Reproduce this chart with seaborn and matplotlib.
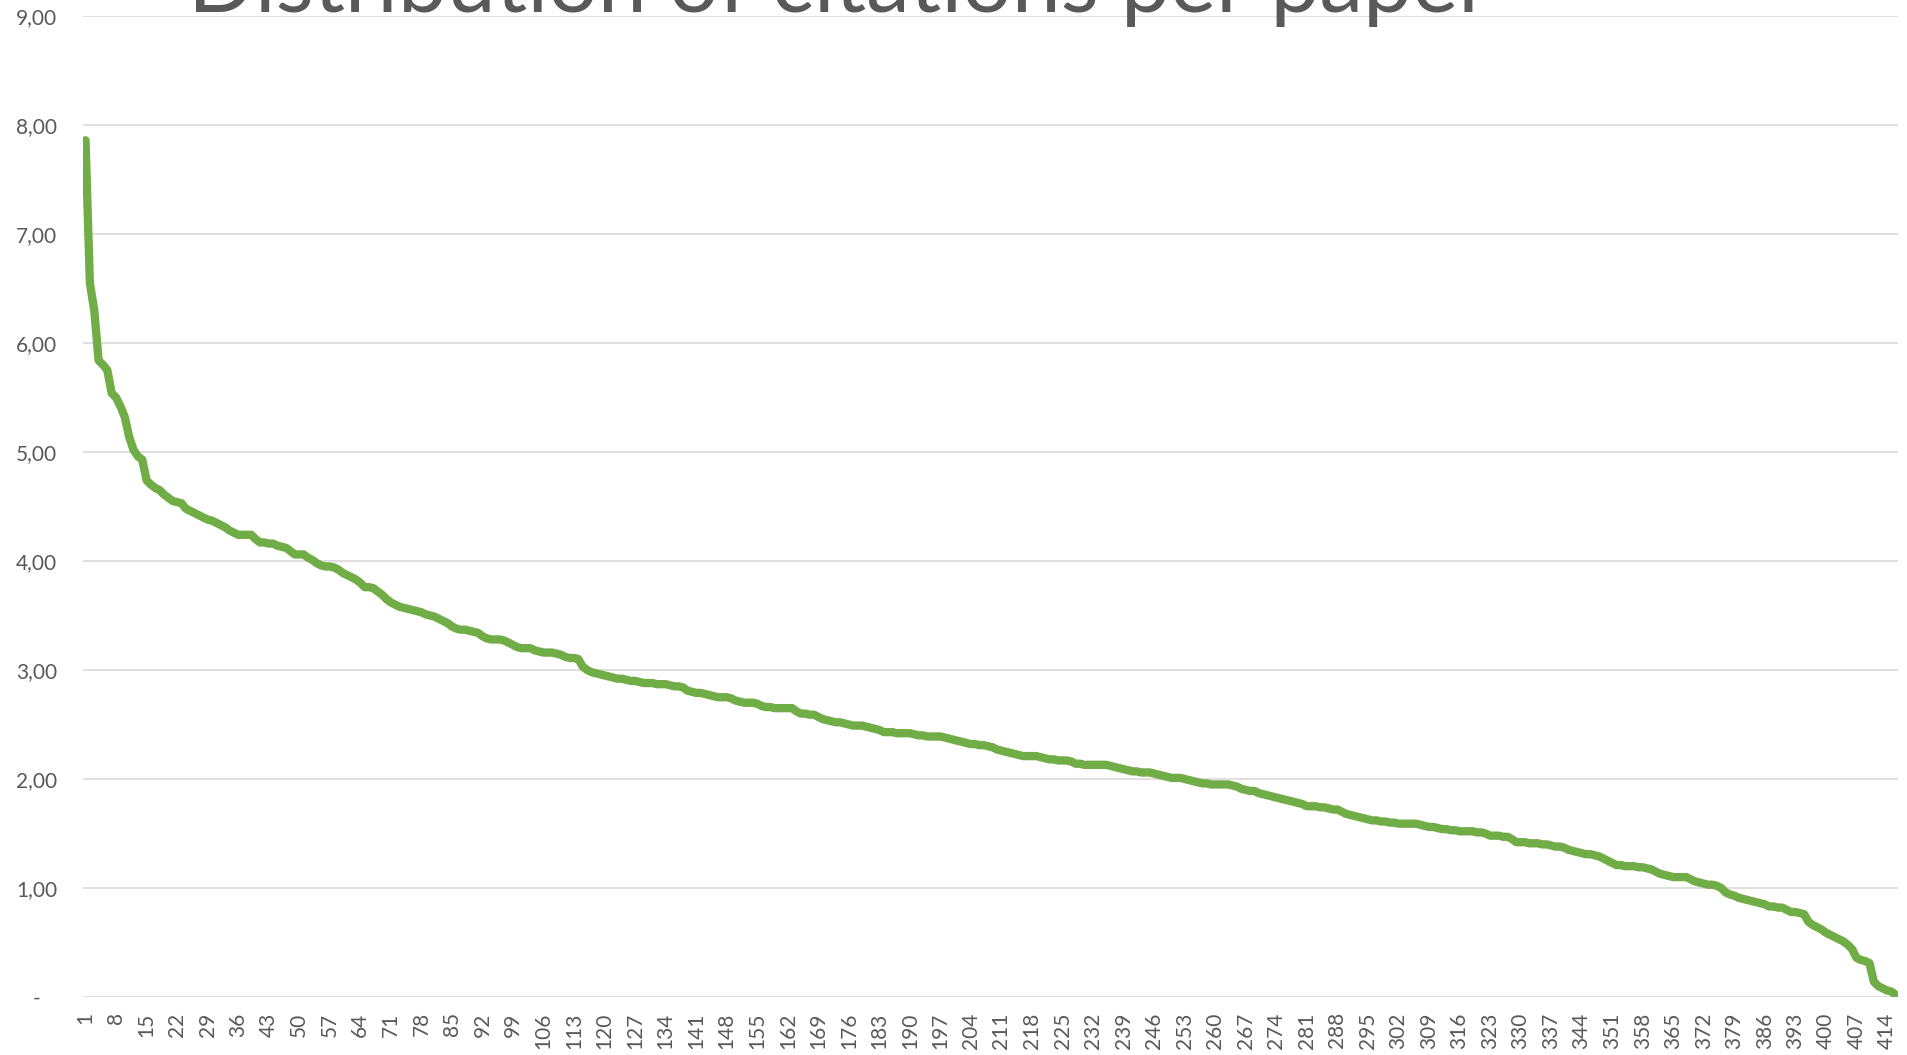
import numpy as np
import pandas as pd
import matplotlib
matplotlib.use("Agg")
import matplotlib.pyplot as plt
import seaborn as sns

# citations per paper, sorted descending
citations = [
    7.86, 6.55, 6.30, 5.84, 5.80, 5.75, 5.54, 5.50, 5.42, 5.32,
    5.14, 5.02, 4.96, 4.93, 4.74, 4.70, 4.67, 4.65, 4.61, 4.58,
    4.55, 4.54, 4.53, 4.48, 4.46, 4.44, 4.42, 4.40, 4.38, 4.37,
    4.35, 4.33, 4.31, 4.28, 4.26, 4.24, 4.24, 4.24, 4.24, 4.20,
    4.17, 4.17, 4.16, 4.16, 4.14, 4.13, 4.12, 4.09, 4.06, 4.06,
    4.06, 4.03, 4.01, 3.98, 3.96, 3.95, 3.95, 3.94, 3.92, 3.89,
    3.87, 3.85, 3.83, 3.80, 3.76, 3.76, 3.75, 3.72, 3.69, 3.65,
    3.62, 3.60, 3.58, 3.57, 3.56, 3.55, 3.54, 3.53, 3.51, 3.50,
    3.49, 3.47, 3.45, 3.43, 3.40, 3.38, 3.37, 3.37, 3.36, 3.35,
    3.34, 3.31, 3.29, 3.28, 3.28, 3.28, 3.27, 3.25, 3.23, 3.21,
    3.20, 3.20, 3.20, 3.18, 3.17, 3.16, 3.16, 3.16, 3.15, 3.14,
    3.12, 3.11, 3.11, 3.10, 3.03, 3.00, 2.98, 2.97, 2.96, 2.95,
    2.94, 2.93, 2.92, 2.92, 2.91, 2.90, 2.90, 2.89, 2.88, 2.88,
    2.88, 2.87, 2.87, 2.87, 2.86, 2.85, 2.85, 2.84, 2.81, 2.80,
    2.79, 2.79, 2.78, 2.77, 2.76, 2.75, 2.75, 2.75, 2.74, 2.72,
    2.71, 2.70, 2.70, 2.70, 2.69, 2.67, 2.66, 2.66, 2.65, 2.65,
    2.65, 2.65, 2.65, 2.62, 2.60, 2.60, 2.59, 2.59, 2.57, 2.55,
    2.54, 2.53, 2.52, 2.52, 2.51, 2.50, 2.49, 2.49, 2.49, 2.48,
    2.47, 2.46, 2.45, 2.43, 2.43, 2.43, 2.42, 2.42, 2.42, 2.42,
    2.41, 2.40, 2.40, 2.39, 2.39, 2.39, 2.39, 2.38, 2.37, 2.36,
    2.35, 2.34, 2.33, 2.32, 2.32, 2.31, 2.31, 2.30, 2.29, 2.27,
    2.26, 2.25, 2.24, 2.23, 2.22, 2.21, 2.21, 2.21, 2.21, 2.20,
    2.19, 2.18, 2.18, 2.17, 2.17, 2.17, 2.16, 2.14, 2.14, 2.13,
    2.13, 2.13, 2.13, 2.13, 2.13, 2.12, 2.11, 2.10, 2.09, 2.08,
    2.07, 2.07, 2.06, 2.06, 2.06, 2.05, 2.04, 2.03, 2.02, 2.01,
    2.01, 2.01, 2.00, 1.99, 1.98, 1.97, 1.96, 1.96, 1.95, 1.95,
    1.95, 1.95, 1.95, 1.94, 1.93, 1.91, 1.90, 1.89, 1.89, 1.87,
    1.86, 1.85, 1.84, 1.83, 1.82, 1.81, 1.80, 1.79, 1.78, 1.77,
    1.75, 1.75, 1.75, 1.74, 1.74, 1.73, 1.72, 1.72, 1.70, 1.68,
    1.67, 1.66, 1.65, 1.64, 1.63, 1.62, 1.62, 1.61, 1.61, 1.60,
    1.60, 1.59, 1.59, 1.59, 1.59, 1.59, 1.58, 1.57, 1.56, 1.56,
    1.55, 1.54, 1.54, 1.53, 1.53, 1.52, 1.52, 1.52, 1.52, 1.51,
    1.51, 1.50, 1.48, 1.48, 1.48, 1.47, 1.47, 1.45, 1.42, 1.42,
    1.42, 1.41, 1.41, 1.41, 1.40, 1.40, 1.39, 1.38, 1.38, 1.37,
    1.35, 1.34, 1.33, 1.32, 1.31, 1.31, 1.30, 1.29, 1.27, 1.25,
    1.23, 1.21, 1.21, 1.20, 1.20, 1.20, 1.19, 1.19, 1.18, 1.17,
    1.15, 1.13, 1.12, 1.11, 1.10, 1.10, 1.10, 1.10, 1.08, 1.06,
    1.05, 1.04, 1.03, 1.03, 1.02, 1.00, 0.96, 0.94, 0.93, 0.91,
    0.90, 0.89, 0.88, 0.87, 0.86, 0.85, 0.83, 0.83, 0.82, 0.82,
    0.80, 0.78, 0.78, 0.77, 0.76, 0.69, 0.66, 0.64, 0.62, 0.59,
    0.57, 0.55, 0.53, 0.51, 0.48, 0.44, 0.36, 0.34, 0.33, 0.31,
    0.14, 0.10, 0.08, 0.06, 0.05, 0.02,
]
paper_rank = list(range(1, len(citations) + 1))

y_ticks = [0, 1, 2, 3, 4, 5, 6, 7, 8, 9]
y_labels = ["-   ", "1,00", "2,00", "3,00", "4,00", "5,00", "6,00", "7,00", "8,00", "9,00"]
x_ticks = list(range(1, 415, 7))

title = "Distribution of citations per paper"

df = pd.DataFrame({"rank": paper_rank, "citations": citations})

sns.set_theme(style="white")
plt.rcParams["font.family"] = ["Lato", "DejaVu Sans"]

grey = "#595959"
fig = plt.figure(figsize=(19.07, 10.55), dpi=100)
ax = fig.add_axes([0.0437, 0.0550, 0.9515, 0.9298])

sns.lineplot(data=df, x="rank", y="citations", ax=ax, color="#70ad47",
             linewidth=6.0, solid_capstyle="round", solid_joinstyle="round")

ax.set_xlim(0.5, len(citations) + 0.5)
ax.set_ylim(0, 9)
ax.set_yticks(y_ticks)
ax.set_yticklabels(y_labels)
ax.set_xticks(x_ticks)
ax.set_xticklabels([str(t) for t in x_ticks], rotation=90)
ax.set_xlabel("")
ax.set_ylabel("")

ax.yaxis.grid(True, color="#d9d9d9", linewidth=1.2)
ax.xaxis.grid(False)
ax.set_axisbelow(True)
for s in ax.spines.values():
    s.set_visible(False)
ax.tick_params(axis="y", length=0, pad=19, labelsize=15, labelcolor=grey)
ax.tick_params(axis="x", length=0, pad=11, labelsize=15, labelcolor=grey)

# title is cut off at the top edge, as in the original
t = fig.text(0.44, 1 - 12 / 1055, title, ha="center", va="baseline",
             fontsize=50, color=grey)
fig.canvas.draw()
w = t.get_window_extent().width
t.set_fontsize(50 * 1302 / w)

fig.savefig("out.png", dpi=100)
